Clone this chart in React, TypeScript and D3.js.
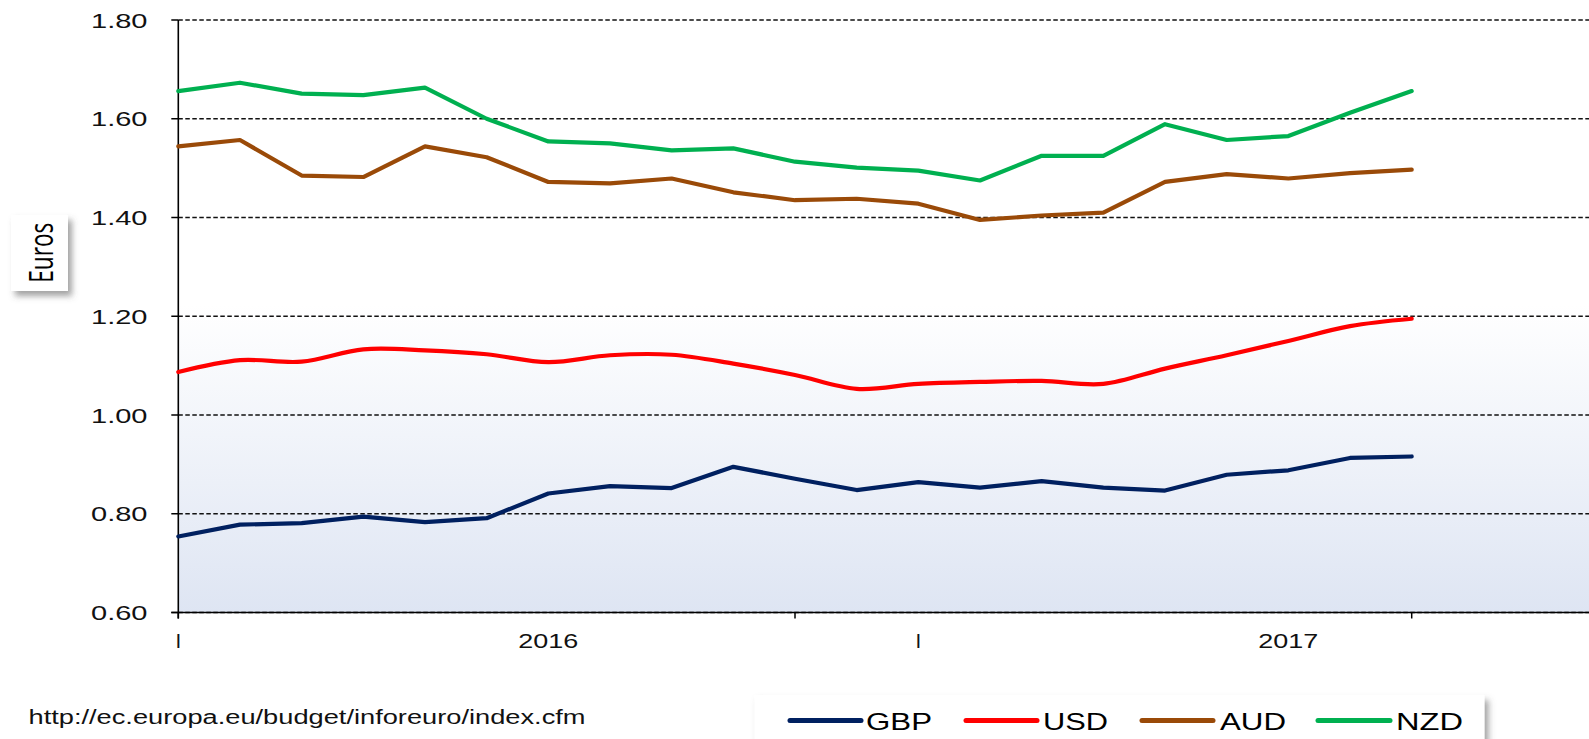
import React from 'react';
import * as d3 from 'd3';

// monthly periods on the category axis
const periods = ['01', '02', '03', '04', '05', '06', '07', '08', '09', '10', '11',
    '12', '13', '14', '15', '16', '17', '18', '19', '20', '21'];

// category labels and tick marks, as drawn under the axis
const xLabels: [string, string][] = [['01', 'I'], ['07', '2016'], ['13', 'I'], ['19', '2017']];
const xTicks = ['01', '11', '21'];
const yTicks = [0.6, 0.8, 1.0, 1.2, 1.4, 1.6, 1.8];

const gbp = [0.754, 0.778, 0.781, 0.794, 0.783, 0.791, 0.841, 0.856, 0.852, 0.895, 0.871,
    0.848, 0.864, 0.853, 0.866, 0.853, 0.847, 0.879, 0.888, 0.913, 0.916];
const usd = [1.087, 1.111, 1.108, 1.133, 1.131, 1.123, 1.107, 1.121, 1.122, 1.104, 1.081,
    1.053, 1.063, 1.067, 1.069, 1.063, 1.094, 1.121, 1.150, 1.180, 1.195];
const aud = [1.544, 1.557, 1.485, 1.482, 1.544, 1.522, 1.472, 1.469, 1.479, 1.451, 1.435,
    1.438, 1.428, 1.395, 1.404, 1.410, 1.472, 1.488, 1.479, 1.490, 1.497];
const nzd = [1.656, 1.673, 1.651, 1.648, 1.663, 1.600, 1.554, 1.550, 1.536, 1.540, 1.513,
    1.501, 1.495, 1.475, 1.525, 1.525, 1.589, 1.557, 1.565, 1.612, 1.656];

const seriesNames = ['GBP', 'USD', 'AUD', 'NZD'];
const seriesValues = [gbp, usd, aud, nzd];
const seriesColors = ['#002060', '#ff0000', '#9a4a08', '#00b050'];
const smoothed = [false, true, false, false];

const W = 1589, H = 739;
const plot = { left: 178.3, top: 20, right: W, bottom: 612.5 };
const font = '"Liberation Sans", Arial, sans-serif';

export default function App() {
    const x = d3.scalePoint<string>().domain(periods).range([plot.left, 1411.7]);
    const y = d3.scaleLinear().domain([0.6, 1.8]).range([plot.bottom, plot.top]);

    const makeLine = (smooth: boolean) => d3.line<number>()
        .x((_, i) => x(periods[i]) as number)
        .y(d => y(d))
        .curve(smooth ? d3.curveCardinal.tension(0) : d3.curveLinear);

    // legend item positions: [lineStart, lineEnd, textStart, textWidth]
    const legendPos = [
        [790, 861, 866, 66],
        [966, 1037, 1043, 65],
        [1142, 1213, 1220, 66],
        [1318, 1390, 1396, 67],
    ];

    return (
        <svg width={W} height={H} style={{ position: 'absolute', left: 0, top: 0, display: 'block' }}>
            <defs>
                <linearGradient id="plotBg" gradientUnits="userSpaceOnUse" x1="0" y1={plot.top} x2="0" y2={plot.bottom}>
                    <stop offset="0" stopColor="#ffffff" />
                    <stop offset="0.48" stopColor="#ffffff" />
                    <stop offset="1" stopColor="#dee5f3" />
                </linearGradient>
                <filter id="shadow" x="-20%" y="-30%" width="140%" height="160%">
                    <feDropShadow dx="4" dy="5" stdDeviation="3" floodColor="#555" floodOpacity="0.55" />
                </filter>
            </defs>
            <rect x={0} y={0} width={W} height={H} fill="#fff" />

            <rect x={plot.left} y={plot.top} width={plot.right - plot.left} height={plot.bottom - plot.top} fill="url(#plotBg)" />

            {/* gridlines */}
            {yTicks.map(t => (
                <line key={'g' + t} x1={plot.left} x2={plot.right} y1={y(t)} y2={y(t)}
                    stroke="#111" strokeWidth={1.4} strokeDasharray="4.5,2.5" />
            ))}

            {/* axes */}
            <line x1={plot.left} x2={plot.left} y1={plot.top} y2={plot.bottom + 6} stroke="#000" strokeWidth={1.6} />
            <line x1={plot.left - 7} x2={plot.right} y1={plot.bottom} y2={plot.bottom} stroke="#000" strokeWidth={1.6} />
            {yTicks.map(t => (
                <g key={'yt' + t}>
                    <line x1={plot.left - 7} x2={plot.left} y1={y(t)} y2={y(t)} stroke="#000" strokeWidth={1.5} />
                    <text x={147.5} y={y(t) + 7.5} textAnchor="end" fontFamily={font} fontSize={20.5}
                        textLength={56.5} lengthAdjust="spacingAndGlyphs" fill="#111">{t.toFixed(2)}</text>
                </g>
            ))}
            {xTicks.map(p => (
                <line key={'xt' + p} x1={x(p)} x2={x(p)} y1={plot.bottom} y2={plot.bottom + 6} stroke="#000" strokeWidth={1.5} />
            ))}
            {xLabels.map(([p, label]) => (
                <text key={'xl' + p} x={x(p)} y={648} textAnchor="middle" fontFamily={font} fontSize={20.5}
                    fill="#111" {...(label.length > 1 ? { textLength: 60, lengthAdjust: 'spacingAndGlyphs' } : {})}>{label}</text>
            ))}

            {/* series */}
            {seriesValues.map((vals, i) => (
                <path key={seriesNames[i]} d={makeLine(smoothed[i])(vals) || ''} fill="none"
                    stroke={seriesColors[i]} strokeWidth={4.2} strokeLinejoin="round" strokeLinecap="round" />
            ))}

            {/* y axis title box */}
            <rect x={11} y={215} width={57} height={76} fill="#fff" filter="url(#shadow)" />
            <text transform="translate(52.7,252.7) scale(1.4,1) rotate(-90)" textAnchor="middle"
                fontFamily='"Open Sans", sans-serif' fontSize={24} textLength={60} lengthAdjust="spacingAndGlyphs"
                fill="#000">Euros</text>

            {/* source */}
            <text x={28.5} y={724} fontFamily={font} fontSize={20} textLength={557} lengthAdjust="spacingAndGlyphs"
                fill="#111">http://ec.europa.eu/budget/inforeuro/index.cfm</text>

            {/* legend */}
            <rect x={754.5} y={695} width={730} height={70} fill="#fff" filter="url(#shadow)" />
            {seriesNames.map((name, i) => {
                const [l0, l1, tx, tw] = legendPos[i];
                return (
                    <g key={'lg' + name}>
                        <line x1={l0} x2={l1} y1={720.5} y2={720.5} stroke={seriesColors[i]} strokeWidth={5} strokeLinecap="round" />
                        <text x={tx} y={729.5} fontFamily={font} fontSize={24} textLength={tw}
                            lengthAdjust="spacingAndGlyphs" fill="#000">{name}</text>
                    </g>
                );
            })}
        </svg>
    );
}
